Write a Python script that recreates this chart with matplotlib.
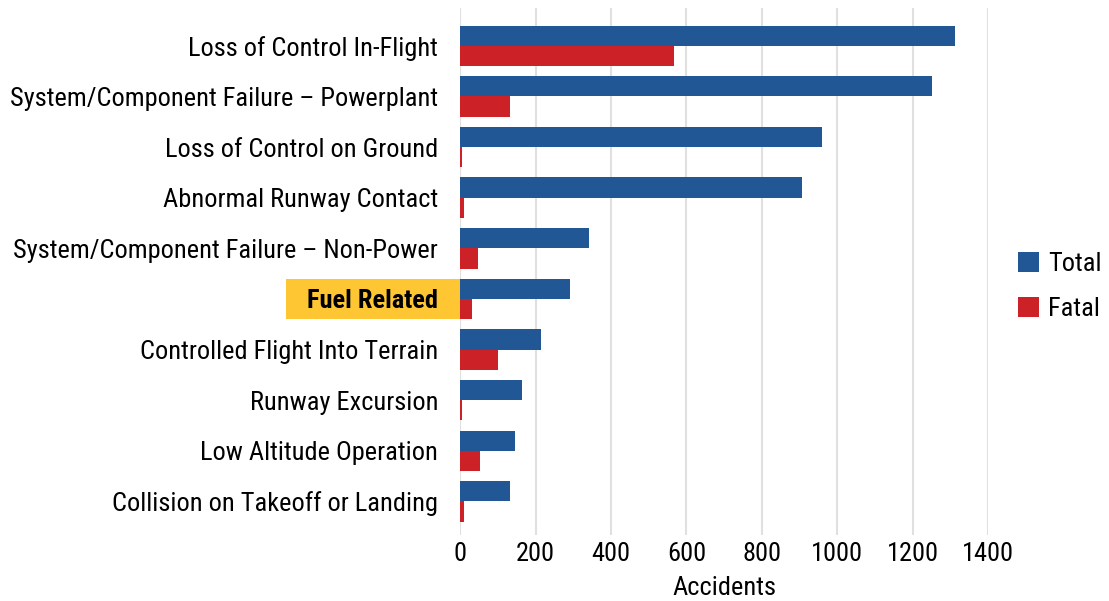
import matplotlib.pyplot as plt
from matplotlib.patches import Rectangle
import matplotlib.transforms as mtransforms
import numpy as np

# === Data ===
categories = [
    "Loss of Control In-Flight",
    "System/Component Failure \u2013 Powerplant",
    "Loss of Control on Ground",
    "Abnormal Runway Contact",
    "System/Component Failure \u2013 Non-Power",
    "Fuel Related",
    "Controlled Flight Into Terrain",
    "Runway Excursion",
    "Low Altitude Operation",
    "Collision on Takeoff or Landing",
]
total = [1311, 1252, 960, 907, 342, 292, 215, 164, 146, 133]
fatal = [568, 133, 5, 10, 47, 31, 100, 5, 53, 10]
highlight = "Fuel Related"
x_ticks = [0, 200, 400, 600, 800, 1000, 1200, 1400]

# === Style ===
plt.rcParams["font.family"] = ["Roboto Condensed", "Liberation Sans Narrow", "Roboto", "DejaVu Sans"]
BLUE = "#215795"
RED = "#CD2128"
YELLOW = "#FFC633"
GRID = "#E0E0E0"
FS = 19

fig = plt.figure(figsize=(11.09, 6.01), dpi=100)
ax = fig.add_axes([0.415, 0.110, 0.476, 0.876])

y = np.arange(len(categories))
h = 0.4
ax.barh(y - h / 2, total, height=h, color=BLUE, label="Total", zorder=3)
ax.barh(y + h / 2, fatal, height=h, color=RED, label="Fatal", zorder=3)

ax.set_xlim(0, 1400)
ax.set_ylim(len(categories) - 1 + 0.66, -0.74)
ax.set_xticks(x_ticks)
ax.set_yticks(y)
ax.set_yticklabels(categories)
ax.tick_params(axis="both", length=0, labelsize=FS)
ax.tick_params(axis="y", pad=16)
ax.tick_params(axis="x", pad=5)
ax.grid(axis="x", color=GRID, linewidth=1.5, zorder=0)
ax.set_axisbelow(True)
for s in ax.spines.values():
    s.set_visible(False)
ax.set_xlabel("Accidents", fontsize=FS, labelpad=7)

# highlight box behind the "Fuel Related" label
idx = categories.index(highlight)
trans = mtransforms.blended_transform_factory(ax.transAxes, ax.transData)
box = Rectangle((-0.3295, idx - 0.4), 0.3295, 0.8, transform=trans,
                facecolor=YELLOW, edgecolor="none", clip_on=False, zorder=0)
ax.add_patch(box)
for lbl in ax.get_yticklabels():
    if lbl.get_text() == highlight:
        lbl.set_fontweight("bold")

ax.legend(loc="center left", bbox_to_anchor=(1018 / 1109, 0.523),
          bbox_transform=fig.transFigure, frameon=False, fontsize=FS,
          handlelength=0.8, handleheight=0.8, handletextpad=0.35,
          labelspacing=0.8, borderpad=0, borderaxespad=0)

plt.savefig("out.png", dpi=100)
plt.close()
